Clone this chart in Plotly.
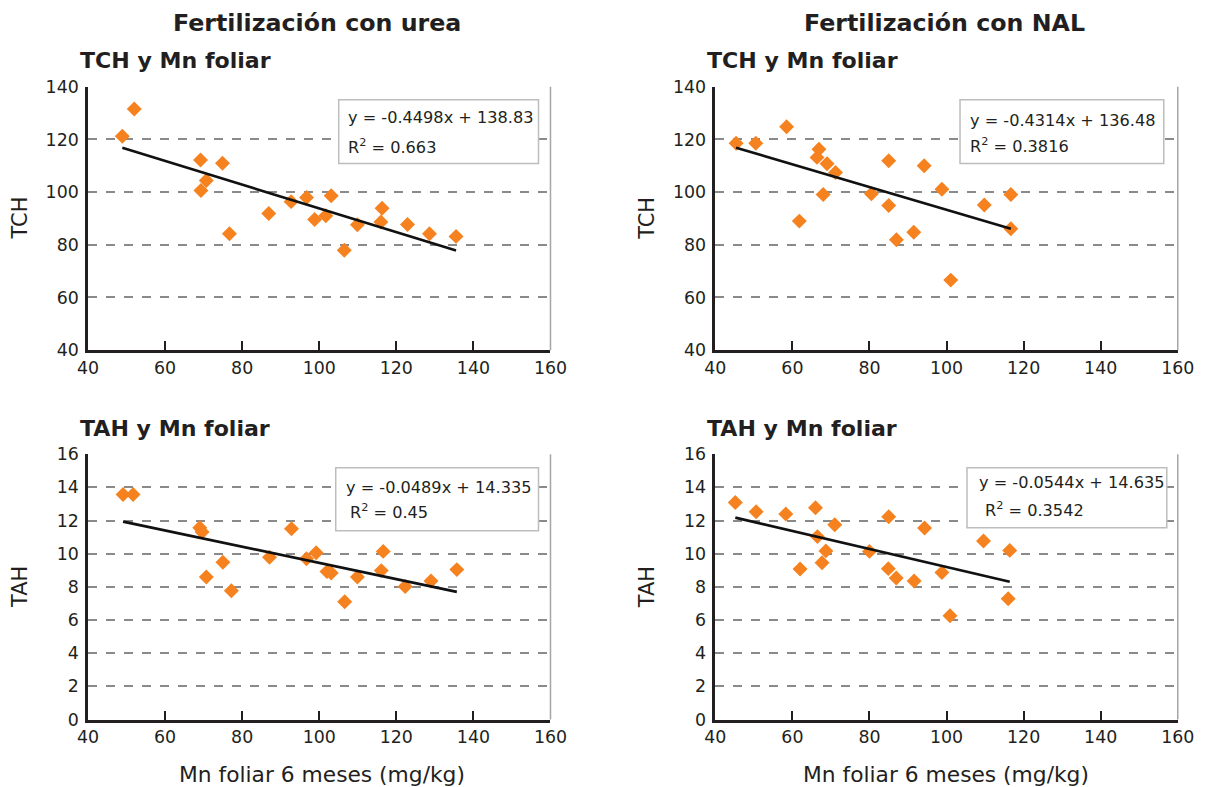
import plotly.graph_objects as go

# ---------------- data ----------------
urea_tch_x = [48.9, 52.0, 69.2, 70.7, 69.3, 74.9, 76.7, 86.9, 92.7, 96.7, 98.8, 101.7, 103.1, 106.5, 109.9, 116.0, 116.3, 122.9, 128.6, 135.5]
urea_tch_y = [121.2, 131.6, 112.2, 104.4, 100.6, 111.0, 84.2, 91.9, 96.4, 98.0, 89.6, 91.0, 98.6, 77.9, 87.6, 88.7, 93.9, 87.7, 84.2, 83.2]

nal_tch_x = [45.4, 50.5, 58.5, 61.8, 66.9, 66.4, 69.0, 71.2, 68.0, 80.5, 85.0, 85.0, 87.0, 91.5, 94.2, 98.8, 101.1, 109.8, 116.7, 116.7]
nal_tch_y = [118.6, 118.6, 124.8, 89.0, 116.3, 113.2, 110.8, 107.5, 99.1, 99.4, 111.9, 94.9, 81.9, 84.8, 110.0, 101.1, 66.6, 95.1, 99.1, 86.1]

urea_tah_x = [49.1, 51.7, 69.0, 69.6, 70.7, 75.0, 77.2, 87.1, 92.8, 96.7, 99.2, 102.0, 103.1, 106.6, 109.9, 116.1, 116.6, 122.3, 129.0, 135.7]
urea_tah_y = [13.57, 13.57, 11.57, 11.31, 8.60, 9.48, 7.76, 9.78, 11.51, 9.69, 10.06, 8.92, 8.84, 7.10, 8.60, 8.98, 10.14, 8.02, 8.36, 9.04]

nal_tah_x = [45.2, 50.6, 58.3, 66.0, 66.5, 71.0, 68.7, 67.7, 62.0, 80.0, 85.0, 84.9, 86.95, 91.6, 94.3, 98.8, 100.9, 109.6, 116.4, 116.0]
nal_tah_y = [13.09, 12.53, 12.39, 12.77, 11.03, 11.75, 10.17, 9.45, 9.08, 10.14, 12.23, 9.10, 8.54, 8.36, 11.55, 8.86, 6.26, 10.77, 10.20, 7.28]

slopes = ["-0.4498", "-0.4314", "-0.0489", "-0.0544"]
intercepts = ["138.83", "136.48", "14.335", "14.635"]
r2_values = ["0.663", "0.3816", "0.45", "0.3542"]

column_titles = ["Fertilización con urea", "Fertilización con NAL"]
panel_titles = ["TCH y Mn foliar", "TCH y Mn foliar", "TAH y Mn foliar", "TAH y Mn foliar"]
y_titles = ["TCH", "TCH", "TAH", "TAH"]
x_title = "Mn foliar 6 meses (mg/kg)"

x_range = [40, 160]
x_ticks = [40, 60, 80, 100, 120, 140, 160]
tch_range = [40, 140]
tch_ticks = [40, 60, 80, 100, 120, 140]
tah_range = [0, 16]
tah_ticks = [0, 2, 4, 6, 8, 10, 12, 14, 16]

# ---------------- layout geometry ----------------
W, H = 1211, 787
# observed page placement of the figure in the photographed window
OFF_X, SC_X = 9.9, 0.978
OFF_Y, SC_Y = 9.0, 0.977

def px_x(p):
    return ((p - OFF_X) / SC_X) / W
def px_y(p):
    return 1 - ((p - OFF_Y) / SC_Y) / H
def fs(s):
    return s / SC_X

panels = [
    dict(x0=87, x1=550, y0=86, y1=350),
    dict(x0=715, x1=1178, y0=86, y1=350),
    dict(x0=87, x1=550, y0=454.3, y1=720.3),
    dict(x0=715, x1=1178, y0=454.3, y1=720.3),
]
datasets = [
    (urea_tch_x, urea_tch_y, tch_range, tch_ticks),
    (nal_tch_x, nal_tch_y, tch_range, tch_ticks),
    (urea_tah_x, urea_tah_y, tah_range, tah_ticks),
    (nal_tah_x, nal_tah_y, tah_range, tah_ticks),
]
eq_boxes = [
    dict(x0=338, x1=538, y0=99, y1=163, tx=345, ty1=117, ty2=146, ind=0),
    dict(x0=960, x1=1164, y0=99, y1=163, tx=968, ty1=120, ty2=145, ind=0),
    dict(x0=335, x1=538, y0=468, y1=531, tx=343, ty1=488, ty2=512, ind=4),
    dict(x0=967, x1=1167, y0=468, y1=528, tx=977, ty1=483, ty2=510, ind=6),
]

FONT = "DejaVu Sans"
TXT = "#231f20"
ORANGE = "#F5821F"

fig = go.Figure()
layout = dict(
    width=W, height=H,
    margin=dict(l=0, r=0, t=0, b=0),
    paper_bgcolor="white", plot_bgcolor="white",
    showlegend=False,
    font=dict(family=FONT, color=TXT, size=fs(17)),
)
shapes = []
annotations = []

for i, (p, (xs, ys, yr, yt)) in enumerate(zip(panels, datasets)):
    n = i + 1
    xa = f"x{n}" if n > 1 else "x"
    ya = f"y{n}" if n > 1 else "y"
    xkey = f"xaxis{n}" if n > 1 else "xaxis"
    ykey = f"yaxis{n}" if n > 1 else "yaxis"

    fig.add_trace(go.Scatter(
        x=xs, y=ys, mode="markers", xaxis=xa, yaxis=ya,
        marker=dict(symbol="diamond", size=11.5, color=ORANGE, line=dict(width=0)),
    ))
    slope = float(slopes[i])
    icpt = float(intercepts[i])
    lx = [min(xs), max(xs)]
    fig.add_trace(go.Scatter(
        x=lx, y=[slope * v + icpt for v in lx], mode="lines", xaxis=xa, yaxis=ya,
        line=dict(color="#111111", width=2.6),
    ))

    layout[xkey] = dict(
        domain=[px_x(p["x0"]), px_x(p["x1"])], anchor=ya,
        range=x_range, tickvals=x_ticks, showgrid=False, zeroline=False,
        showline=True, linecolor="#231f20", linewidth=2.5,
        ticks="inside", ticklen=9, tickwidth=1.5, tickcolor="#231f20",
        tickfont=dict(size=fs(17), color=TXT, family=FONT),
    )
    layout[ykey] = dict(
        domain=[px_y(p["y1"]), px_y(p["y0"])], anchor=xa,
        range=yr, tickvals=yt, showgrid=True, gridcolor="#8a8a8a",
        griddash="dash", gridwidth=1.5, zeroline=False,
        showline=True, linecolor="#231f20", linewidth=2.5,
        ticks="", ticklabelstandoff=3,
        tickfont=dict(size=fs(17), color=TXT, family=FONT),
    )
    # right border
    shapes.append(dict(type="line", xref="paper", yref="paper",
                       x0=px_x(p["x1"]), x1=px_x(p["x1"]),
                       y0=px_y(p["y1"]), y1=px_y(p["y0"]),
                       line=dict(color="#a6a6a6", width=1.5)))
    # y title
    annotations.append(dict(text=y_titles[i], xref="paper", yref="paper",
                            x=px_x(p["x0"] - 68), y=px_y((p["y0"] + p["y1"]) / 2),
                            xanchor="center", yanchor="middle",
                            showarrow=False, textangle=-90,
                            font=dict(size=fs(20.5), family=FONT, color=TXT)))
    # panel subtitle
    annotations.append(dict(text=f"<b>{panel_titles[i]}</b>", xref="paper", yref="paper",
                            x=px_x(p["x0"] - 10), y=px_y(p["y0"] - 26),
                            xanchor="left", yanchor="middle", showarrow=False,
                            font=dict(size=fs(21.6), family=FONT, color=TXT)))
    # equation box
    b = eq_boxes[i]
    shapes.append(dict(type="rect", xref="paper", yref="paper",
                       x0=px_x(b["x0"]), x1=px_x(b["x1"]),
                       y0=px_y(b["y1"]), y1=px_y(b["y0"]),
                       fillcolor="white", line=dict(color="#bdbdbd", width=1.5),
                       layer="above"))
    annotations.append(dict(text=f"y = {slopes[i]}x + {intercepts[i]}", xref="paper", yref="paper",
                            x=px_x(b["tx"]), y=px_y(b["ty1"]), xanchor="left", yanchor="middle",
                            showarrow=False, font=dict(size=fs(15.8), family=FONT, color=TXT)))
    annotations.append(dict(text=f"R<sup>2</sup> = {r2_values[i]}", xref="paper", yref="paper",
                            x=px_x(b["tx"] + b["ind"]), y=px_y(b["ty2"]), xanchor="left", yanchor="middle",
                            showarrow=False, font=dict(size=fs(15.8), family=FONT, color=TXT)))

# column titles
for cx, t in zip([316, 944], column_titles):
    annotations.append(dict(text=f"<b>{t}</b>", xref="paper", yref="paper",
                            x=px_x(cx), y=px_y(22), xanchor="center", yanchor="middle",
                            showarrow=False,
                            font=dict(size=fs(23.2), family=FONT, color=TXT)))
# x titles
for cx in [321, 946]:
    annotations.append(dict(text=x_title, xref="paper", yref="paper",
                            x=px_x(cx), y=px_y(775), xanchor="center", yanchor="middle",
                            showarrow=False,
                            font=dict(size=fs(21.3), family=FONT, color=TXT)))

layout["shapes"] = shapes
layout["annotations"] = annotations
fig.update_layout(**layout)
fig.write_html("out.html")
